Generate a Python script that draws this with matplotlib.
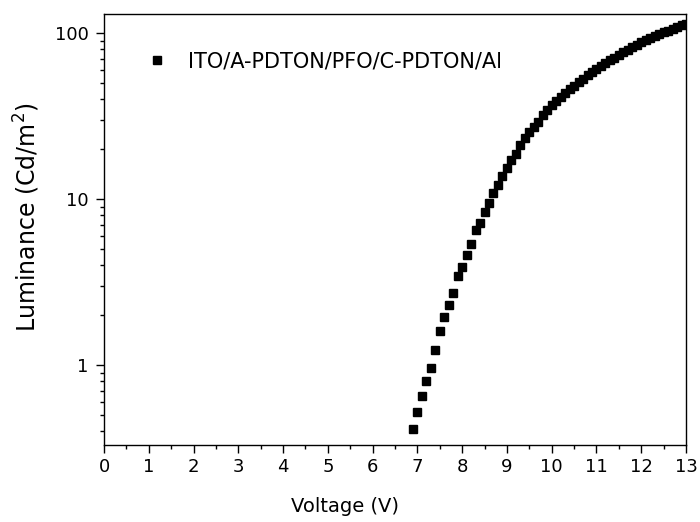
import matplotlib
matplotlib.use('Agg')
import matplotlib.pyplot as plt
from matplotlib.ticker import MultipleLocator, LogLocator, FixedLocator, FixedFormatter, NullFormatter

plt.rcParams['font.family'] = ['DejaVu Sans']
plt.rcParams['mathtext.fontset'] = 'dejavusans'

# voltage (V), 0.1 V steps from 6.9 to 13.0
voltage = [round(6.9 + 0.1 * i, 1) for i in range(62)]
# luminance (Cd/m^2)
luminance = [0.41, 0.52, 0.65, 0.80, 0.96, 1.24, 1.60, 1.95, 2.31, 2.70,
             3.42, 3.88, 4.62, 5.33, 6.50, 7.14, 8.32, 9.42, 10.8, 12.1,
             13.8, 15.3, 17.2, 18.8, 21.2, 23.2, 25.4, 27.3, 29.2, 32.1,
             34.4, 36.8, 39.0, 41.2, 43.5, 45.8, 48.2, 50.6, 53.0, 55.5,
             58.0, 60.6, 63.2, 65.8, 68.5, 71.2, 74.0, 76.8, 79.5, 82.3,
             85.0, 88.0, 90.8, 93.5, 96.0, 98.5, 101, 103.5, 106, 108.5,
             111, 114]
label = 'ITO/A-PDTON/PFO/C-PDTON/Al'

fig = plt.figure(figsize=(7, 5.22), dpi=100)
ax = fig.add_axes([0.1486, 0.1475, 0.8314, 0.8255])

ax.plot(voltage, luminance, 's', color='black', markersize=6.3, label=label)
ax.set_yscale('log')
ax.set_xlim(0, 13)
ax.set_ylim(0.33, 130)

ax.xaxis.set_major_locator(MultipleLocator(1))
ax.xaxis.set_minor_locator(MultipleLocator(0.5))
ax.yaxis.set_major_locator(FixedLocator([1, 10, 100]))
ax.yaxis.set_major_formatter(FixedFormatter(['1', '10', '100']))
ax.yaxis.set_minor_locator(LogLocator(base=10, subs=range(2, 10)))
ax.yaxis.set_minor_formatter(NullFormatter())

ax.tick_params(which='major', direction='out', length=6, width=1, labelsize=13)
ax.tick_params(axis='y', which='major', pad=5)
ax.tick_params(which='minor', direction='out', length=3, width=1)
for s in ax.spines.values():
    s.set_linewidth(1)

ax.set_xlabel('Voltage (V)', fontsize=14)
ax.set_ylabel('Luminance (Cd/m$^{2}$)', fontsize=17)
ax.xaxis.set_label_coords(0.414, -0.121)
ax.yaxis.set_label_coords(-0.107, 0.528)

ax.legend(loc='upper left', frameon=False, fontsize=15, handletextpad=0.75,
          handlelength=1.45, bbox_to_anchor=(0.033, 0.957))

fig.savefig('out.png', dpi=100)
